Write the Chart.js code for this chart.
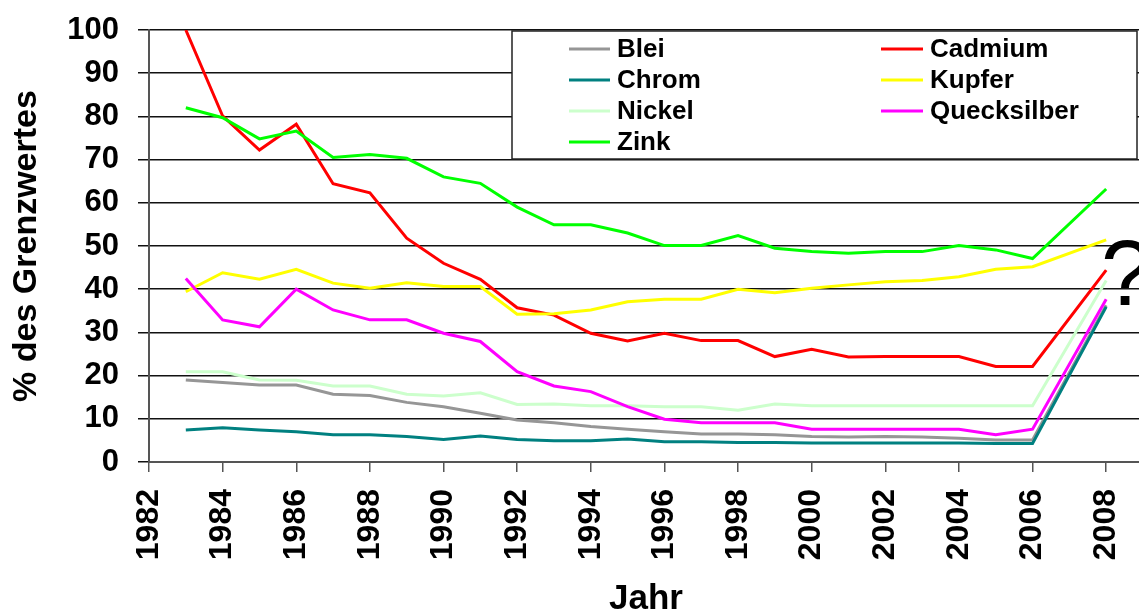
<!DOCTYPE html>
<html>
<head>
<meta charset="utf-8">
<script src="https://cdn.jsdelivr.net/npm/chart.js@4/dist/chart.umd.min.js"></script>
<style>
  html, body { margin: 0; padding: 0; background: #fff; overflow: hidden; }
  #wrap { width: 1150px; height: 620px; }
</style>
</head>
<body>
<div id="wrap"><canvas id="c" width="1150" height="620"></canvas></div>
<script>
// Jahre der Messungen (2007 fehlt)
const jahre = [1983, 1984, 1985, 1986, 1987, 1988, 1989, 1990, 1991, 1992, 1993, 1994,
               1995, 1996, 1997, 1998, 1999, 2000, 2001, 2002, 2003, 2004, 2005, 2006, 2008];

// Beschriftete Jahre der x-Achse
const achsenJahre = [1982, 1984, 1986, 1988, 1990, 1992, 1994, 1996, 1998, 2000, 2002, 2004, 2006, 2008];

// Schwermetallgehalte in % des Grenzwertes
const blei        = [19.0, 18.4, 17.8, 17.8, 15.7, 15.4, 13.8, 12.8, 11.3, 9.7, 9.1, 8.2,
                     7.6, 7.0, 6.5, 6.5, 6.3, 5.9, 5.8, 5.9, 5.8, 5.5, 5.1, 5.1, 36.3];
const cadmium     = [100, 80.1, 72.2, 78.2, 64.4, 62.3, 51.8, 46.0, 42.3, 35.7, 34.0, 29.8,
                     28.0, 29.8, 28.1, 28.1, 24.4, 26.1, 24.3, 24.4, 24.4, 24.4, 22.1, 22.1, 44.4];
const chrom       = [7.4, 7.9, 7.4, 7.0, 6.3, 6.3, 5.9, 5.2, 6.0, 5.2, 4.9, 4.9,
                     5.3, 4.7, 4.7, 4.5, 4.5, 4.4, 4.4, 4.4, 4.4, 4.4, 4.3, 4.3, 35.9];
const kupfer      = [39.4, 43.8, 42.3, 44.6, 41.4, 40.2, 41.5, 40.6, 40.6, 34.2, 34.3, 35.2,
                     37.1, 37.7, 37.7, 40.0, 39.2, 40.2, 41.0, 41.7, 42.0, 42.9, 44.6, 45.2, 51.4];
const nickel      = [20.9, 20.9, 19.0, 18.9, 17.6, 17.6, 15.7, 15.3, 16.0, 13.3, 13.4, 13.0,
                     13.0, 12.8, 12.8, 12.0, 13.4, 13.0, 13.0, 13.0, 13.0, 13.0, 13.0, 13.0, 42.0];
const quecksilber = [42.5, 32.9, 31.3, 40.0, 35.2, 32.9, 32.9, 29.8, 27.9, 20.9, 17.6, 16.3,
                     12.8, 9.9, 9.1, 9.1, 9.1, 7.6, 7.6, 7.6, 7.6, 7.6, 6.3, 7.6, 37.7];
const zink        = [82.0, 79.7, 74.8, 76.6, 70.5, 71.2, 70.3, 66.0, 64.5, 59.0, 54.9, 54.9,
                     53.0, 50.1, 50.1, 52.4, 49.5, 48.7, 48.3, 48.7, 48.7, 50.1, 49.1, 47.1, 63.2];

const metalle = ['Blei', 'Cadmium', 'Chrom', 'Kupfer', 'Nickel', 'Quecksilber', 'Zink'];
const farben  = ['#969696', '#FF0000', '#008080', '#FFFF00', '#CCFFCC', '#FF00FF', '#00FF00'];
const reihen  = [blei, cadmium, chrom, kupfer, nickel, quecksilber, zink];

const FONT = '"Liberation Sans", Arial, sans-serif';

const datasets = metalle.map((name, i) => ({
  label: name,
  data: jahre.map((j, k) => ({ x: j, y: reihen[i][k] })),
  borderColor: farben[i],
  backgroundColor: farben[i],
  borderWidth: 3,
  pointRadius: 0,
  tension: 0,
  fill: false,
  order: metalle.length - i
}));

// Legendenkasten (zweispaltig) und Fragezeichen
const legendeUndHinweis = {
  id: 'legendeUndHinweis',
  afterDraw(chart) {
    const ctx = chart.ctx;
    ctx.save();
    const bx = 512, by = 31, bw = 625, bh = 128;
    ctx.fillStyle = '#fff';
    ctx.fillRect(bx, by, bw, bh);
    ctx.strokeStyle = '#222';
    ctx.lineWidth = 1.5;
    ctx.strokeRect(bx, by, bw, bh);

    const cols = [{ x0: 569, x1: 610, tx: 617 }, { x0: 881, x1: 923, tx: 930 }];
    const rowY = [49, 80, 111, 142];
    ctx.font = 'bold 26px ' + FONT;
    ctx.textBaseline = 'middle';
    ctx.textAlign = 'left';
    chart.data.datasets.forEach((ds, i) => {
      const c = cols[i % 2];
      const y = rowY[Math.floor(i / 2)];
      ctx.strokeStyle = ds.borderColor;
      ctx.lineWidth = 3;
      ctx.beginPath();
      ctx.moveTo(c.x0, y);
      ctx.lineTo(c.x1, y);
      ctx.stroke();
      ctx.fillStyle = '#000';
      ctx.fillText(ds.label, c.tx, y + 1);
    });

    ctx.font = '92px ' + FONT;
    ctx.textBaseline = 'alphabetic';
    ctx.fillStyle = '#000';
    ctx.fillText('?', 1101, 305);
    ctx.restore();
  }
};

new Chart(document.getElementById('c'), {
  type: 'line',
  data: { datasets },
  options: {
    responsive: false,
    animation: false,
    layout: { padding: { top: 30, right: 7, left: 0, bottom: 0 } },
    plugins: { legend: { display: false }, tooltip: { enabled: false } },
    scales: {
      x: {
        type: 'linear',
        min: 1982,
        max: 2009,
        afterBuildTicks(scale) { scale.ticks = achsenJahre.map(v => ({ value: v })); },
        afterFit(scale) {
          scale.height = 158;
          scale.paddingLeft = 0;
          scale.paddingRight = 0;
        },
        ticks: {
          autoSkip: false,
          minRotation: 90,
          maxRotation: 90,
          padding: 17,
          color: '#000',
          font: { family: FONT, size: 32, weight: 'bold' },
          callback: v => String(v)
        },
        grid: { drawOnChartArea: false, drawTicks: true, tickLength: 10, color: '#555', lineWidth: 1.5 },
        border: { display: true, color: '#555', width: 2 },
        title: {
          display: true,
          text: 'Jahr',
          color: '#000',
          font: { family: FONT, size: 35, weight: 'bold', lineHeight: 1.2 },
          padding: { top: 0, bottom: 0 }
        }
      },
      y: {
        min: 0,
        max: 100,
        afterFit(scale) {
          scale.width = 149;
          scale.paddingTop = 0;
          scale.paddingBottom = 0;
        },
        ticks: {
          stepSize: 10,
          padding: 19,
          color: '#000',
          font: { family: FONT, size: 31, weight: 'bold' }
        },
        grid: { color: '#111', lineWidth: 1.5, drawTicks: true, tickLength: 11 },
        border: { display: true, color: '#555', width: 2 },
        title: {
          display: true,
          text: '% des Grenzwertes',
          color: '#000',
          font: { family: FONT, size: 34, weight: 'bold', lineHeight: 1.2 },
          padding: { top: 6, bottom: 0 }
        }
      }
    }
  },
  plugins: [legendeUndHinweis]
});
</script>
</body>
</html>
